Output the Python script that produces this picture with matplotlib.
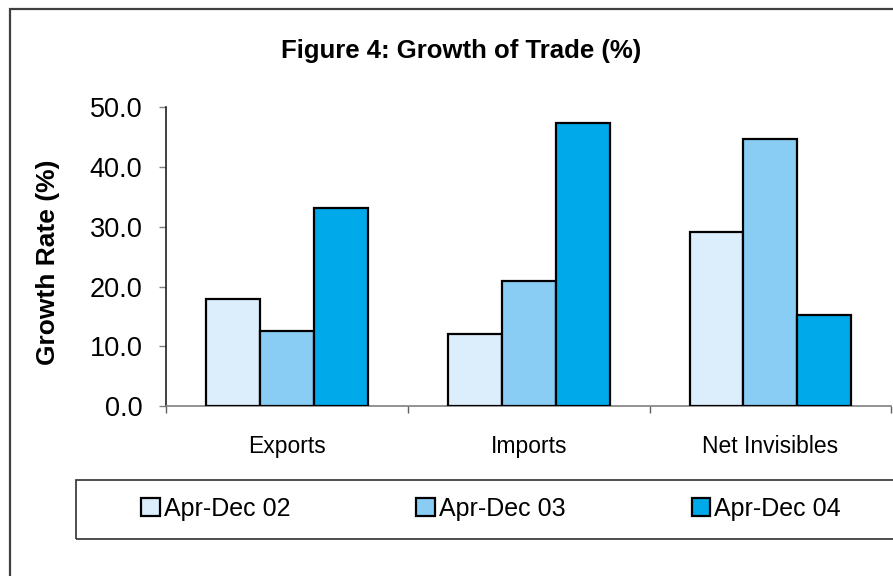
import numpy as np
import matplotlib
matplotlib.use("Agg")
import matplotlib.pyplot as plt
from matplotlib.patches import Rectangle

plt.rcParams['font.family'] = ['Liberation Sans', 'DejaVu Sans']

categories = ['Exports', 'Imports', 'Net Invisibles']
series_names = ['Apr-Dec 02', 'Apr-Dec 03', 'Apr-Dec 04']
values = {
    'Apr-Dec 02': [17.9, 12.0, 29.1],
    'Apr-Dec 03': [12.6, 21.0, 44.6],
    'Apr-Dec 04': [33.1, 47.3, 15.2],
}
colors = ['#DCEEFB', '#89CDF4', '#00A9E9']
y_ticks = [0, 10, 20, 30, 40, 50]

fig = plt.figure(figsize=(8.93, 5.76), dpi=100)
ax = fig.add_axes([0.186, 0.295, 0.812, 0.519])

x = np.arange(len(categories))
w = 0.223
for i, name in enumerate(series_names):
    ax.bar(x + (i - 1) * w, values[name], w, color=colors[i],
           edgecolor='black', linewidth=1.6, label=name, zorder=3)

ax.set_xlim(-0.5, 2.5)
ax.set_ylim(0, 50)
ax.set_yticks(y_ticks)
ax.set_yticklabels([f'{v:.1f}' for v in y_ticks], fontsize=19.5)
ax.tick_params(axis='y', length=5, width=1, color='#808080', pad=12)

ax.set_xticks(x)
ax.set_xticklabels(categories, fontsize=16.5)
ax.tick_params(axis='x', which='major', length=0, pad=21)
ax.set_xticks(np.arange(-0.5, 3, 1), minor=True)
ax.tick_params(axis='x', which='minor', length=5, width=1, color='#606060',
               direction='out')

for s in ['top', 'right']:
    ax.spines[s].set_visible(False)
ax.spines['left'].set_color('#202020')
ax.spines['left'].set_linewidth(1.2)
ax.spines['bottom'].set_color('#808080')
ax.spines['bottom'].set_linewidth(1.2)

fig.text(0.516, 0.911, 'Figure 4: Growth of Trade (%)', ha='center', va='center',
         fontsize=18.5, fontweight='bold')
fig.text(0.054, 0.545, 'Growth Rate (%)', ha='center', va='center',
         rotation=90, fontsize=19, fontweight='bold')

# outer chart border (runs off the right and bottom edges)
fig.patches.append(Rectangle((10 / 893, -0.05), 1.1, 1 - 9 / 576 + 0.05,
                             transform=fig.transFigure, fill=False,
                             edgecolor='#404040', linewidth=1.6))
# legend frame
fig.patches.append(Rectangle((76 / 893, 1 - 539 / 576), 1.0, 59 / 576,
                             transform=fig.transFigure, fill=False,
                             edgecolor='#303030', linewidth=1.2))

handles, labels = ax.get_legend_handles_labels()
fig.legend(handles, labels, loc='center left', bbox_to_anchor=(141 / 893, 1 - 509 / 576),
           ncol=3, frameon=False, fontsize=18, handlelength=0.75, handleheight=0.75,
           handletextpad=0.15, columnspacing=5.05, borderpad=0, borderaxespad=0)

fig.savefig('out.png', dpi=100)
